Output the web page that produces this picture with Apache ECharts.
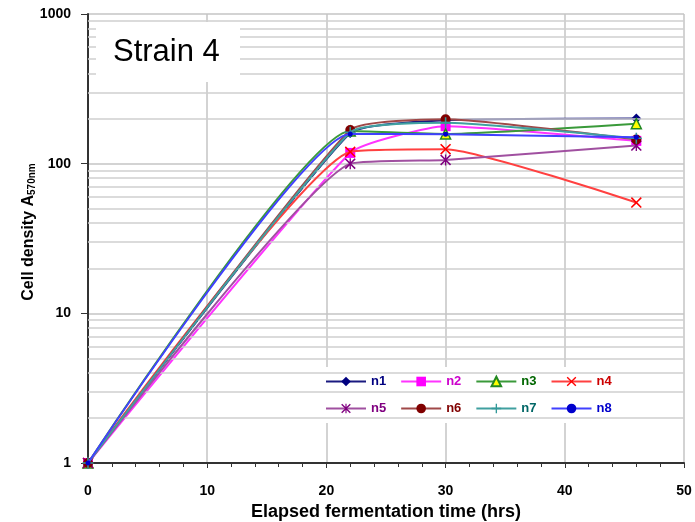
<!DOCTYPE html>
<html>
<head>
<meta charset="utf-8">
<script src="https://cdn.jsdelivr.net/npm/echarts@6/dist/echarts.min.js"></script>
<style>
  html, body { margin: 0; padding: 0; background: #fff; }
  #chart { width: 695px; height: 522px; }
</style>
</head>
<body>
<div id="chart"></div>
<script>
  // sampling times (hrs)
  const hours = [0, 22, 30, 46];
  // cell density A570nm per run
  const n1 = [1, 160, 195, 200];
  const n2 = [1, 118, 178, 142];
  const n3 = [1, 165, 158, 185];
  const n4 = [1, 120, 125, 55];
  const n5 = [1, 100, 106, 132];
  const n6 = [1, 168, 198, 145];
  const n7 = [1, 162, 188, 148];
  const n8 = [1, 158, 157, 150];
  const names = ['n1', 'n2', 'n3', 'n4', 'n5', 'n6', 'n7', 'n8'];
  const yTicks = [1, 10, 100, 1000];
  const minorGrid = [2, 3, 4, 5, 6, 7, 8, 9, 20, 30, 40, 50, 60, 70, 80, 90, 200, 300, 400, 500, 600, 700, 800, 900];

  const font = 'Liberation Sans, Arial, sans-serif';

  const crossPath = 'path://M0,1L1,0L5,4L9,0L10,1L6,5L10,9L9,10L5,6L1,10L0,9L4,5Z';
  const starPath = 'path://M0,1L1,0L5,4L9,0L10,1L6,5L10,9L9,10L5,6L1,10L0,9L4,5Z M4.4,0H5.6V10H4.4Z';
  const plusPath = 'path://M4.3,0H5.7V4.3H10V5.7H5.7V10H4.3V5.7H0V4.3H4.3Z';

  const styles = [
    { line: '#1a1a80', symbol: 'diamond', size: 10, fill: '#000080', border: '#000080', text: '#000080' },
    { line: '#ff33ff', symbol: 'rect', size: 10, fill: '#ff00ff', border: '#ff00ff', text: '#cc00cc' },
    { line: '#3a9a3a', symbol: 'triangle', size: 10, fill: '#ffff00', border: '#228822', text: '#006600' },
    { line: '#ff4040', symbol: crossPath, size: 11, fill: '#ff0000', border: '#ff0000', text: '#cc0000' },
    { line: '#a050a0', symbol: starPath, size: 11, fill: '#800080', border: '#800080', text: '#800080' },
    { line: '#a04848', symbol: 'circle', size: 10, fill: '#800000', border: '#800000', text: '#800000' },
    { line: '#40a0a0', symbol: plusPath, size: 11, fill: '#339999', border: '#339999', text: '#006666' },
    { line: '#4040ff', symbol: 'circle', size: 5, fill: '#0000cc', border: '#0000cc', text: '#0000cc' }
  ];
  const values = [n1, n2, n3, n4, n5, n6, n7, n8];

  // minor log gridlines (2..9 per decade)
  const series = [{
    type: 'line',
    name: 'grid',
    data: [],
    z: 1,
    silent: true,
    markLine: {
      silent: true,
      symbol: 'none',
      animation: false,
      label: { show: false },
      lineStyle: { color: '#cfcfcf', width: 1.5, type: 'solid' },
      data: minorGrid.map(v => ({ yAxis: v }))
    }
  }];
  names.forEach((n, i) => {
    const s = styles[i];
    series.push({
      name: n,
      type: 'line',
      smooth: 0.15,
      clip: false,
      z: 3 + i,
      data: hours.map((h, k) => [h, values[i][k]]),
      symbol: s.symbol,
      symbolSize: s.size,
      lineStyle: { color: s.line, width: 2 },
      itemStyle: { color: s.fill, borderColor: s.border, borderWidth: s.symbol === 'triangle' ? 1.5 : 0 }
    });
  });

  const chart = echarts.init(document.getElementById('chart'));
  chart.setOption({
    animation: false,
    textStyle: { fontFamily: font },
    grid: { left: 88, right: 11, top: 14, bottom: 59, outerBoundsMode: 'none', containLabel: false },
    legend: {
      left: 317,
      top: 367,
      width: 300,
      backgroundColor: '#ffffff',
      padding: [8, 6, 8, 8],
      itemWidth: 40,
      itemHeight: 12,
      itemGap: 14,
      textStyle: { fontWeight: 'bold', fontSize: 13, fontFamily: font, width: 18 },
      data: names.map((n, i) => ({ name: n, textStyle: { color: styles[i].text } }))
    },
    xAxis: {
      type: 'value',
      min: 0,
      max: 50,
      interval: 10,
      name: 'Elapsed fermentation time (hrs)',
      nameLocation: 'middle',
      nameGap: 37,
      nameTextStyle: { fontWeight: 'bold', fontSize: 18, color: '#000' },
      axisLine: { lineStyle: { color: '#333', width: 2 } },
      axisTick: { length: 5, lineStyle: { color: '#333' } },
      minorTick: { show: true, splitNumber: 5, length: 4, lineStyle: { color: '#333' } },
      axisLabel: { margin: 21, fontWeight: 'bold', fontSize: 14, color: '#000' },
      splitLine: { show: true, lineStyle: { color: '#c4c4c4', width: 1.5 } }
    },
    yAxis: {
      type: 'log',
      min: 1,
      max: 1000,
      logBase: 10,
      axisLine: { show: true, lineStyle: { color: '#333', width: 2 } },
      axisTick: { show: true, length: 7, lineStyle: { color: '#333' } },
      axisLabel: {
        margin: 17, fontWeight: 'bold', fontSize: 14, color: '#000',
        formatter: v => (yTicks.indexOf(Math.round(v)) >= 0 ? String(Math.round(v)) : '')
      },
      splitLine: { show: true, lineStyle: { color: '#c4c4c4', width: 1.5 } }
    },
    graphic: [
      {
        type: 'rect',
        left: 96,
        top: 22,
        shape: { width: 144, height: 60 },
        style: { fill: '#ffffff' },
        z: 50
      },
      {
        type: 'text',
        x: 113,
        y: 52,
        z: 51,
        style: { text: 'Strain 4', font: '31px ' + font, fill: '#000', verticalAlign: 'middle' }
      },
      {
        type: 'text',
        x: 29,
        y: 232,
        rotation: Math.PI / 2,
        z: 51,
        style: {
          text: '{a|Cell density A}{b|570nm}',
          align: 'center',
          verticalAlign: 'middle',
          rich: {
            a: { fontFamily: font, fontSize: 16, fontWeight: 'bold', fill: '#000', color: '#000' },
            b: { fontFamily: font, fontSize: 10, fontWeight: 'bold', fill: '#000', color: '#000', padding: [7, 0, 0, 0] }
          }
        }
      }
    ],
    series: series
  });
</script>
</body>
</html>
